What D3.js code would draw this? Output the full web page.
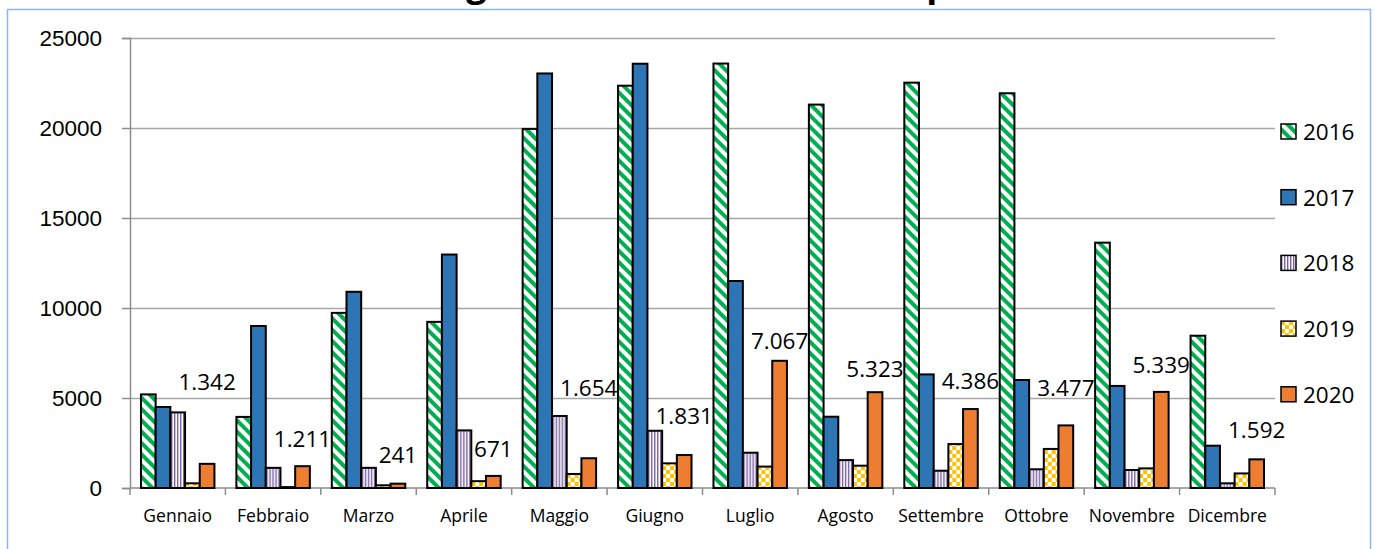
<!DOCTYPE html>
<html>
<head>
<meta charset="utf-8">
<script src="https://cdn.jsdelivr.net/npm/d3@7"></script>
<style>
  body { margin: 0; background: #fff; }
  svg { display: block; font-family: "Open Sans", sans-serif; }
</style>
</head>
<body>
<svg width="1375" height="549"></svg>
<script>
var months = ["Gennaio", "Febbraio", "Marzo", "Aprile", "Maggio", "Giugno",
              "Luglio", "Agosto", "Settembre", "Ottobre", "Novembre", "Dicembre"];
var years = ["2016", "2017", "2018", "2019", "2020"];

var v2016 = [5200, 3950, 9730, 9230, 19950, 22350, 23580, 21300, 22520, 21930, 13630, 8460];
var v2017 = [4500, 9000, 10900, 12970, 23030, 23570, 11500, 3960, 6310, 6000, 5670, 2350];
var v2018 = [4200, 1120, 1120, 3200, 4000, 3180, 1960, 1550, 960, 1040, 1000, 260];
var v2019 = [260, 50, 150, 380, 780, 1370, 1190, 1240, 2440, 2170, 1090, 810];
var v2020 = [1342, 1211, 241, 671, 1654, 1831, 7067, 5323, 4386, 3477, 5339, 1592];

var yTicks = [0, 5000, 10000, 15000, 20000, 25000];

var series = [v2016, v2017, v2018, v2019, v2020];

var svg = d3.select("svg"),
    margin = {top: 38, right: 100, bottom: 61, left: 130},
    width = 1275 - margin.left,
    height = 488 - margin.top;

// chart frame (light blue, runs past the bottom of the picture)
svg.append("rect")
    .attr("x", 7.5).attr("y", 9.5)
    .attr("width", 1363).attr("height", 700)
    .attr("fill", "none")
    .attr("stroke", "#8fb8e6")
    .attr("stroke-width", 1.5);

// title, mostly cut off above the picture
svg.append("text")
    .attr("x", 759)
    .attr("y", -4)
    .attr("text-anchor", "middle")
    .style("font-size", "36px")
    .style("font-weight", "bold")
    .text("Ingressi nei mesi 2016-2020 per anno");

// patterns
var defs = svg.append("defs");

var pGreen = defs.append("pattern")
    .attr("id", "p2016")
    .attr("patternUnits", "userSpaceOnUse")
    .attr("width", 8).attr("height", 8)
    .attr("patternTransform", "rotate(-45)");
pGreen.append("rect").attr("width", 8).attr("height", 8).attr("fill", "#fff");
pGreen.append("rect").attr("width", 4).attr("height", 8).attr("fill", "#00b050");

var pPurple = defs.append("pattern")
    .attr("id", "p2018")
    .attr("patternUnits", "userSpaceOnUse")
    .attr("width", 3).attr("height", 3);
pPurple.append("rect").attr("width", 3).attr("height", 3).attr("fill", "#fff");
pPurple.append("rect").attr("width", 1.4).attr("height", 3).attr("fill", "#7a5fa0");

var pYellow = defs.append("pattern")
    .attr("id", "p2019")
    .attr("patternUnits", "userSpaceOnUse")
    .attr("width", 8).attr("height", 8);
pYellow.append("rect").attr("width", 8).attr("height", 8).attr("fill", "#fff");
pYellow.append("rect").attr("width", 4).attr("height", 4).attr("fill", "#ffc000");
pYellow.append("rect").attr("x", 4).attr("y", 4).attr("width", 4).attr("height", 4).attr("fill", "#ffc000");

var fills = ["url(#p2016)", "#2e75b6", "url(#p2018)", "url(#p2019)", "#ed7d31"];

var x0 = d3.scaleBand()
    .domain(months)
    .range([0, width])
    .paddingInner(0.23)
    .paddingOuter(0.115);

var x1 = d3.scaleBand()
    .domain(years)
    .range([0, x0.bandwidth()]);

var y = d3.scaleLinear()
    .domain([0, 25000])
    .range([height, 0]);

var g = svg.append("g")
    .attr("transform", "translate(" + margin.left + "," + margin.top + ")");

// gridlines
g.append("g")
    .selectAll("line")
    .data(yTicks.slice(1))
    .enter().append("line")
    .attr("x1", 0).attr("x2", width)
    .attr("y1", function(d) { return y(d) + 0.5; })
    .attr("y2", function(d) { return y(d) + 0.5; })
    .attr("stroke", "#a6a6a6")
    .attr("stroke-width", 1.5);

// y axis
var yAxis = g.append("g")
    .call(d3.axisLeft(y).tickValues(yTicks).tickSize(8).tickPadding(20).tickFormat(d3.format("d")));
yAxis.selectAll("text").style("font-size", "22.5px").attr("fill", "#000");
yAxis.selectAll("line, path").attr("stroke", "#8c8c8c").attr("stroke-width", 1.5);

// x axis with ticks at category boundaries
var step = x0.step();
var xAxis = g.append("g")
    .attr("transform", "translate(0," + height + ")");
xAxis.append("line")
    .attr("x1", 0).attr("x2", width)
    .attr("stroke", "#8c8c8c").attr("stroke-width", 1.5);
xAxis.selectAll(".tk")
    .data(d3.range(months.length + 1))
    .enter().append("line")
    .attr("class", "tk")
    .attr("x1", function(i) { return i * step; })
    .attr("x2", function(i) { return i * step; })
    .attr("y1", 0).attr("y2", 7)
    .attr("stroke", "#8c8c8c").attr("stroke-width", 1.5);
xAxis.selectAll(".lbl")
    .data(months)
    .enter().append("text")
    .attr("class", "lbl")
    .attr("x", function(d) { return x0(d) + x0.bandwidth() / 2; })
    .attr("y", 34)
    .attr("text-anchor", "middle")
    .style("font-size", "17.5px")
    .text(function(d) { return d; });

// bars
var groups = g.selectAll(".month")
    .data(months)
    .enter().append("g")
    .attr("class", "month")
    .attr("transform", function(d) { return "translate(" + x0(d) + ",0)"; });

groups.selectAll("rect")
    .data(function(d, i) {
        return years.map(function(yr, k) { return {year: yr, k: k, value: series[k][i]}; });
    })
    .enter().append("rect")
    .attr("x", function(d) { return x1(d.year); })
    .attr("y", function(d) { return y(d.value); })
    .attr("width", x1.bandwidth())
    .attr("height", function(d) { return height - y(d.value); })
    .attr("fill", function(d) { return fills[d.k]; })
    .attr("stroke", "#000")
    .attr("stroke-width", 2);

// data labels for 2020 (moved by hand in the original)
var labelLift = [74, 19, 21, 19, 62, 31, 12, 15, 20, 29, 19, 21];
var itFormat = d3.formatLocale({decimal: ",", thousands: ".", grouping: [3], currency: ["€", ""]}).format(",d");

g.selectAll(".dlabel")
    .data(months)
    .enter().append("text")
    .attr("class", "dlabel")
    .attr("x", function(d) { return x0(d) + x1("2020") + x1.bandwidth() / 2; })
    .attr("y", function(d, i) { return y(v2020[i]) - labelLift[i]; })
    .attr("text-anchor", "middle")
    .style("font-size", "22.5px")
    .text(function(d, i) { return itFormat(v2020[i]); });

// legend
var legend = svg.append("g")
    .attr("transform", "translate(1281,132)");
var row = legend.selectAll("g")
    .data(years)
    .enter().append("g")
    .attr("transform", function(d, i) { return "translate(0," + (i * 65.7) + ")"; });
row.append("rect")
    .attr("x", 0).attr("y", -8)
    .attr("width", 15).attr("height", 15)
    .attr("fill", function(d, i) { return fills[i]; })
    .attr("stroke", "#000")
    .attr("stroke-width", 1.5);
row.append("text")
    .attr("x", 22)
    .attr("y", 8)
    .style("font-size", "22.5px")
    .text(function(d) { return d; });
</script>
</body>
</html>
